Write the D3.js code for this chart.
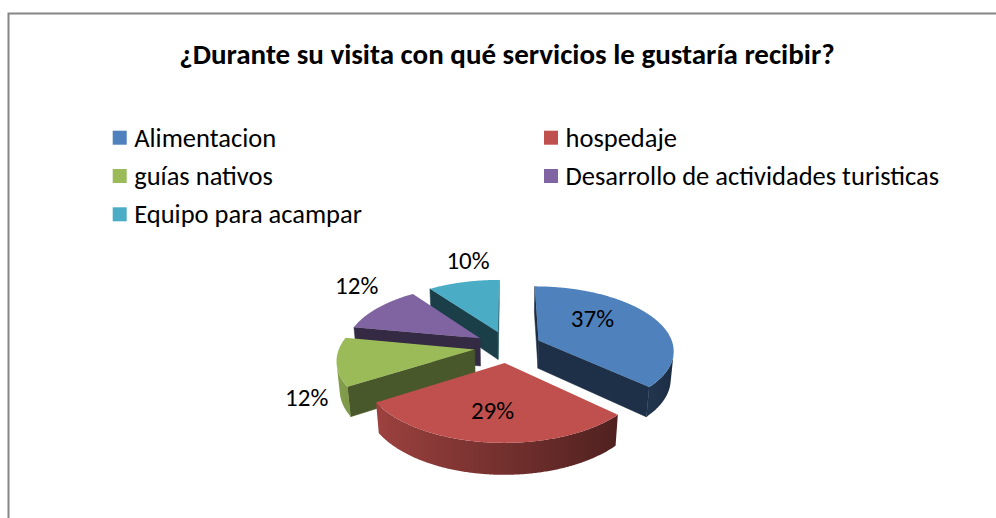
<!DOCTYPE html>
<html>
<head>
<meta charset="utf-8">
<script src="https://cdnjs.cloudflare.com/ajax/libs/d3/7.8.5/d3.min.js"></script>
<style>
  body { margin: 0; background: #fff; }
  svg { display: block; }
</style>
</head>
<body>
<svg id="chart" width="996" height="518"></svg>
<script>
const chartTitle = '¿Durante su visita con qué servicios le gustaría recibir?';
const categories = ['Alimentacion', 'hospedaje', 'guías nativos', 'Desarrollo de actividades turisticas', 'Equipo para acampar'];
const values = [37, 29, 12, 12, 10];
const colors = ['#4F81BD', '#C0504D', '#9BBB59', '#8064A2', '#4BACC6'];
const labelTexts = values.map(v => `${v}%`);

// label placement: inside on the top face or just outside the rim, then a small nudge
const labelRadius = [0.5, 0.5, 1.3, 1.3, 1.3];
const labelNudge = [[-4.7, -9.8], [-4.8, 11.4], [13.1, 31.2], [6.7, -14.2], [13.5, -9.3]];

const W = 996, H = 518;
const FONT = 'Carlito, Calibri, Lato, sans-serif';

const svg = d3.select('#chart');
const defs = svg.append('defs');

// chart frame (right and bottom edges run off the picture)
svg.append('rect')
    .attr('x', 8.5).attr('y', 13.5)
    .attr('width', W + 20).attr('height', H + 20)
    .attr('fill', '#fff')
    .attr('stroke', '#868686')
    .attr('stroke-width', 2);

svg.append('text')
    .attr('x', 507)
    .attr('y', 54)
    .attr('text-anchor', 'middle')
    .attr('dominant-baseline', 'central')
    .style('font-family', FONT)
    .style('font-weight', 'bold')
    .style('font-size', '29px')
    .attr('fill', '#000')
    .text(chartTitle);

// legend: two columns, filled row by row
const legendCol = d3.scaleOrdinal().domain([0, 1]).range([112.7, 544]);
const legendRow = d3.scaleLinear().domain([0, 1]).range([137.7, 176]);

const legend = svg.append('g').selectAll('g')
    .data(categories)
    .join('g')
    .attr('transform', (d, i) => `translate(${legendCol(i % 2)},${legendRow(Math.floor(i / 2))})`);

legend.append('rect')
    .attr('x', 0).attr('y', -7)
    .attr('width', 14).attr('height', 14)
    .attr('fill', (d, i) => colors[i]);

legend.append('text')
    .attr('x', 21.5)
    .attr('y', 0)
    .attr('dominant-baseline', 'central')
    .style('font-family', FONT)
    .style('font-size', '26.5px')
    .attr('fill', '#000')
    .text(d => d);

// ---- 3D exploded pie ----
const view = {
    cx: 508, cy: 346.6,     // screen position of the pie centre
    scale: 135,             // px per radius at the centre depth
    tilt: 28 * Math.PI / 180,
    dist: 6.2,              // camera distance, in radii
    height: 0.24,           // slice thickness, in radii
    explode: 0.25
};
const cosT = Math.cos(view.tilt), sinT = Math.sin(view.tilt);
const cam = [0, view.dist * cosT, view.dist * sinT];

function project(x, y, z) {
    const depth = view.dist - y * cosT - z * sinT;
    const f = view.scale * view.dist / depth;
    return [view.cx + x * f, view.cy + (y * sinT - z * cosT) * f];
}

// model: x right, y toward the viewer, z up; angle clockwise from the far side
const rimPoint = (o, a, z) => [o[0] + Math.sin(a), o[1] - Math.cos(a), z];

function facing(normal, p) {
    const v = [cam[0] - p[0], cam[1] - p[1], cam[2] - p[2]];
    return normal[0] * v[0] + normal[1] * v[1] + normal[2] * v[2] > 0;
}

const shade = (base, k) => d3.interpolateRgb('#000', base)(k);
const sideShade = (base, a) => shade(base, 0.6 - 0.26 * Math.sin(a));
const line = d3.line().x(p => p[0]).y(p => p[1]);
const poly = pts => line(pts.map(p => project(...p))) + 'Z';

const arcs = d3.pie().sort(null).value(v => v)(values);

const slices = arcs.map((a, i) => {
    const mid = (a.startAngle + a.endAngle) / 2;
    const o = [view.explode * Math.sin(mid), -view.explode * Math.cos(mid)];
    return { ...a, i, mid, o, depth: view.dist - o[1] * cosT };
});

const pieG = svg.append('g');
const h = -view.height;

slices.slice().sort((a, b) => b.depth - a.depth).forEach(s => {
    const g = pieG.append('g');
    const base = colors[s.i];
    const a0 = s.startAngle, a1 = s.endAngle;
    const apexTop = [s.o[0], s.o[1], 0], apexBot = [s.o[0], s.o[1], h];

    // radial cut faces
    [[a0, [-Math.cos(a0), -Math.sin(a0), 0]], [a1, [Math.cos(a1), Math.sin(a1), 0]]].forEach(([a, n]) => {
        const rt = rimPoint(s.o, a, 0), rb = rimPoint(s.o, a, h);
        const c = [(apexTop[0] + rt[0]) / 2, (apexTop[1] + rt[1]) / 2, h / 2];
        if (!facing(n, c)) return;
        const col = shade(base, 0.43 + 0.08 * n[0]);
        g.append('path')
            .attr('d', poly([apexTop, rt, rb, apexBot]))
            .attr('fill', col).attr('stroke', col).attr('stroke-width', 0.5);
    });

    // outer curved side: visible run of angles, one path with a horizontal gradient
    const steps = Math.max(8, Math.ceil((a1 - a0) / (Math.PI / 360)));
    const ang = d3.range(steps + 1).map(k => a0 + (a1 - a0) * k / steps);
    const vis = ang.filter(a => facing([Math.sin(a), -Math.cos(a), 0], rimPoint(s.o, a, h / 2)));
    if (vis.length > 1) {
        const xs = vis.map(a => project(...rimPoint(s.o, a, 0))[0]);
        const [xMin, xMax] = d3.extent(xs);
        const gid = `side-${s.i}`;
        defs.append('linearGradient')
            .attr('id', gid)
            .attr('gradientUnits', 'userSpaceOnUse')
            .attr('x1', xMin).attr('x2', xMax).attr('y1', 0).attr('y2', 0)
            .selectAll('stop')
            .data(vis.map((a, k) => ({ a, x: xs[k] })).sort((p, q) => p.x - q.x))
            .join('stop')
            .attr('offset', d => xMax > xMin ? (d.x - xMin) / (xMax - xMin) : 0)
            .attr('stop-color', d => sideShade(base, d.a));
        const pts = [...vis.map(a => rimPoint(s.o, a, 0)), ...vis.slice().reverse().map(a => rimPoint(s.o, a, h))];
        g.append('path')
            .attr('d', poly(pts))
            .attr('fill', `url(#${gid})`);
    }

    // top face
    g.append('path')
        .attr('d', poly([apexTop, ...ang.map(a => rimPoint(s.o, a, 0))]))
        .attr('fill', base);
});

// data labels
const labelPos = s => {
    const r = labelRadius[s.i];
    const p = project(s.o[0] + r * Math.sin(s.mid), s.o[1] - r * Math.cos(s.mid), 0);
    return [p[0] + labelNudge[s.i][0], p[1] + labelNudge[s.i][1]];
};

svg.append('g').selectAll('text')
    .data(slices)
    .join('text')
    .attr('x', s => labelPos(s)[0])
    .attr('y', s => labelPos(s)[1])
    .attr('text-anchor', 'middle')
    .attr('dominant-baseline', 'central')
    .style('font-family', FONT)
    .style('font-size', '25px')
    .attr('fill', '#000')
    .text(s => labelTexts[s.i]);
</script>
</body>
</html>
